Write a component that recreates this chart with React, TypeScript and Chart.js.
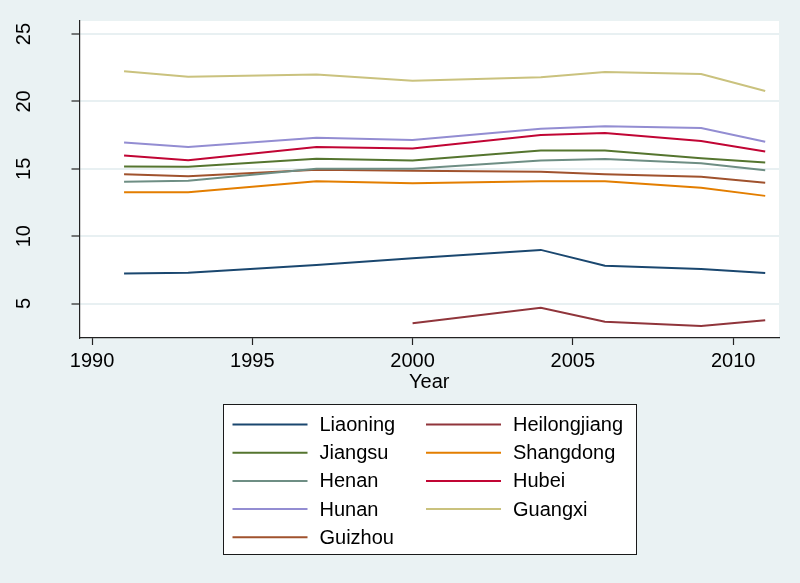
import React, { useEffect, useRef } from 'react';
import { Chart, registerables } from 'chart.js';

Chart.register(...registerables);

const years = [1991, 1993, 1997, 2000, 2004, 2006, 2009, 2011];
const provinces = ['Liaoning', 'Heilongjiang', 'Jiangsu', 'Shangdong', 'Henan', 'Hubei', 'Hunan', 'Guangxi', 'Guizhou'];
const liaoning = [7.22, 7.29, 7.86, 8.36, 8.98, 7.81, 7.57, 7.27];
const heilongjiang = [null, null, null, 3.53, 4.69, 3.65, 3.33, 3.75];
const jiangsu = [15.17, 15.15, 15.74, 15.62, 16.36, 16.36, 15.79, 15.47];
const shangdong = [13.26, 13.26, 14.08, 13.93, 14.08, 14.08, 13.59, 12.99];
const henan = [14.03, 14.11, 15.0, 15.0, 15.62, 15.72, 15.42, 14.9];
const hubei = [15.99, 15.64, 16.61, 16.51, 17.5, 17.65, 17.06, 16.29];
const hunan = [16.96, 16.61, 17.3, 17.13, 17.97, 18.15, 18.02, 17.0];
const guangxi = [22.24, 21.84, 21.99, 21.54, 21.79, 22.19, 22.04, 20.78];
const guizhou = [14.6, 14.45, 14.93, 14.85, 14.78, 14.6, 14.41, 13.96];
const seriesValues = [liaoning, heilongjiang, jiangsu, shangdong, henan, hubei, hunan, guangxi, guizhou];
const seriesColors = ['#1a476f', '#90353b', '#55752f', '#e37e00', '#6e8e84', '#c10534', '#938dd2', '#cac27e', '#a0522d'];
const xTickValues = [1990, 1995, 2000, 2005, 2010];
const yTickValues = [5, 10, 15, 20, 25];
const xTitle = 'Year';

const FONT = '"Liberation Sans", Arial, Helvetica, sans-serif';
const BG = '#eaf2f3';

const bgPlugin = {
  id: 'stataBg',
  beforeDraw(chart: any) {
    const { ctx, chartArea } = chart;
    ctx.save();
    ctx.fillStyle = BG;
    ctx.fillRect(0, 0, chart.width, chart.height);
    ctx.fillStyle = '#ffffff';
    ctx.fillRect(chartArea.left, chartArea.top, chartArea.right - chartArea.left, chartArea.bottom - chartArea.top);
    ctx.restore();
  },
};

const legendPlugin = {
  id: 'stataLegend',
  afterDraw(chart: any) {
    const { ctx, chartArea } = chart;
    const boxW = 413;
    const boxH = 150;
    const cx = (chartArea.left + chartArea.right) / 2;
    const left = Math.round(cx - boxW / 2) + 0.5;
    const top = 404.5;
    ctx.save();
    ctx.fillStyle = '#ffffff';
    ctx.fillRect(left, top, boxW, boxH);
    ctx.strokeStyle = '#1a1a1a';
    ctx.lineWidth = 1;
    ctx.strokeRect(left, top, boxW, boxH);
    ctx.font = `20px ${FONT}`;
    ctx.textBaseline = 'middle';
    ctx.textAlign = 'left';
    chart.data.datasets.forEach((ds: any, i: number) => {
      const row = Math.floor(i / 2);
      const col = i % 2;
      const y = top + 20 + row * 28.2;
      const x0 = left + 9 + col * 193.5;
      ctx.strokeStyle = ds.borderColor;
      ctx.lineWidth = 2;
      ctx.beginPath();
      ctx.moveTo(x0, y);
      ctx.lineTo(x0 + 75, y);
      ctx.stroke();
      ctx.fillStyle = '#000000';
      ctx.fillText(ds.label, x0 + 87, y + 1);
    });
    ctx.restore();
  },
};

export default function App() {
  const ref = useRef<HTMLCanvasElement | null>(null);
  useEffect(() => {
    if (!ref.current) return;
    const datasets = provinces.map((name, i) => ({
      label: name,
      data: years.map((yr, j) => ({ x: yr, y: seriesValues[i][j] })),
      borderColor: seriesColors[i],
      backgroundColor: seriesColors[i],
      borderWidth: 2,
      pointRadius: 0,
      tension: 0,
      spanGaps: false,
    }));
    const chart = new Chart(ref.current, {
      type: 'line',
      data: { datasets },
      plugins: [bgPlugin, legendPlugin],
      options: {
        responsive: false,
        animation: false,
        layout: { padding: { left: 0, top: 21, right: 21, bottom: 189 } },
        plugins: { legend: { display: false }, tooltip: { enabled: false } },
        scales: {
          x: {
            type: 'linear',
            min: 1989.61,
            max: 2011.43,
            afterBuildTicks: (scale: any) => {
              scale.ticks = xTickValues.map((v) => ({ value: v }));
            },
            afterFit: (scale: any) => {
              scale.height = 56;
              scale.paddingLeft = 0;
              scale.paddingRight = 0;
            },
            border: { display: true, color: '#222222', width: 1.2 },
            grid: { drawOnChartArea: false, drawTicks: true, tickLength: 7, tickColor: '#222222', tickWidth: 1.2 },
            ticks: {
              color: '#000000',
              font: { family: FONT, size: 20 },
              padding: 4,
              maxRotation: 0,
              minRotation: 0,
              callback: (v: any) => String(v),
            },
            title: {
              display: true,
              text: xTitle,
              color: '#000000',
              font: { family: FONT, size: 20 },
              padding: { top: 0, bottom: 0 },
            },
          },
          y: {
            type: 'linear',
            min: 2.44,
            max: 25.97,
            afterBuildTicks: (scale: any) => {
              scale.ticks = yTickValues.map((v) => ({ value: v }));
            },
            afterFit: (scale: any) => {
              scale.width = 79.5;
              scale.paddingTop = 0;
              scale.paddingBottom = 0;
            },
            border: { display: true, color: '#222222', width: 1.2 },
            grid: { color: '#e8f0f2', lineWidth: 2, drawTicks: true, tickLength: 8, tickColor: '#222222', tickWidth: 1.2 },
            ticks: {
              color: '#000000',
              font: { family: FONT, size: 20 },
              padding: 36,
              minRotation: 90,
              maxRotation: 90,
              crossAlign: 'center',
              callback: (v: any) => String(v),
            },
          },
        },
      },
    });
    return () => chart.destroy();
  }, []);
  return (
    <div style={{ position: 'absolute', left: 0, top: 0, width: 800, height: 583, background: BG }}>
      <canvas ref={ref} width={800} height={583} style={{ display: 'block' }} />
    </div>
  );
}
